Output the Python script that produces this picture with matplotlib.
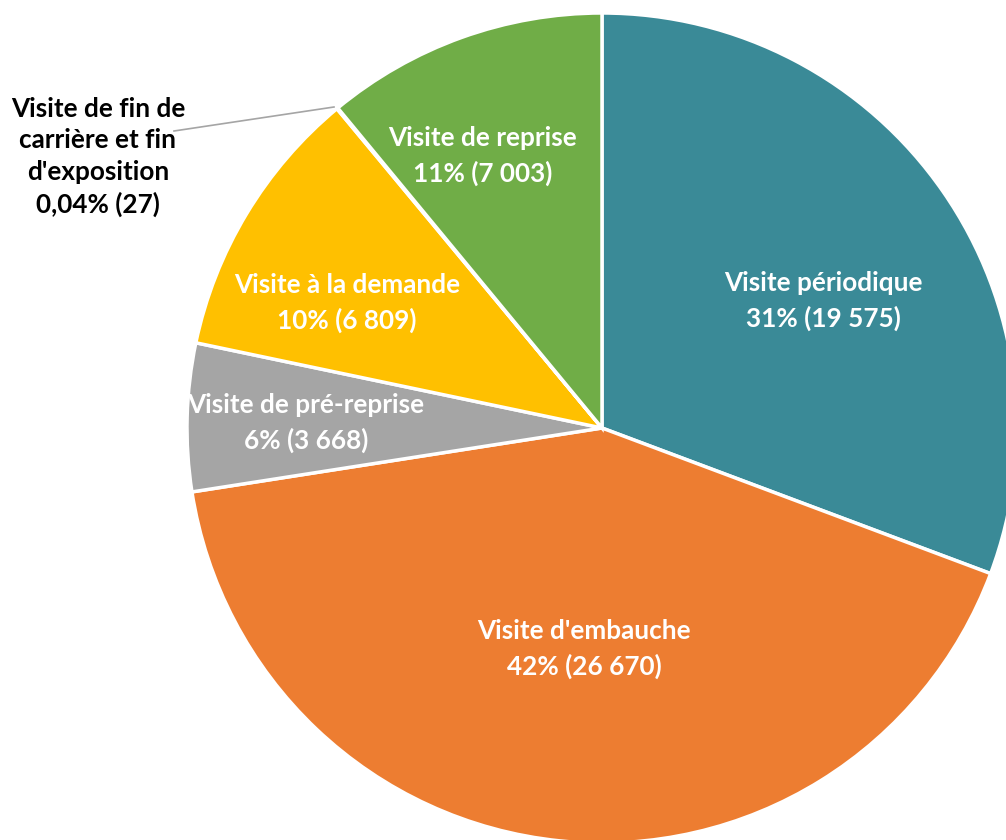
import matplotlib
matplotlib.use("Agg")
import matplotlib.pyplot as plt

categories = ["Visite périodique", "Visite d'embauche", "Visite de pré-reprise",
              "Visite à la demande", "Visite de fin de\ncarrière et fin\nd'exposition",
              "Visite de reprise"]
values = [19575, 26670, 3668, 6809, 27, 7003]
pct_labels = ["31%", "42%", "6%", "10%", "0,04%", "11%"]
colors = ["#3A8A97", "#ED7D31", "#A5A5A5", "#FFC000", "#4472C4", "#70AD47"]

W, H = 1006, 840
fig = plt.figure(figsize=(W / 100, H / 100), dpi=100)
ax = fig.add_axes([0, 0, 1, 1])
ax.set_xlim(0, W)
ax.set_ylim(0, H)
ax.set_aspect("equal")
ax.axis("off")

cx, cy, R = 602, H - 428, 415
wedges, _ = ax.pie(values, colors=colors, startangle=90, counterclock=False,
                   center=(cx, cy), radius=R,
                   wedgeprops=dict(edgecolor="white", linewidth=2.5))
ax.set_xlim(0, W)
ax.set_ylim(0, H)

def fmt(v):
    return f"{v:,}".replace(",", " ")

font = dict(family=["Lato", "DejaVu Sans"], fontweight="bold", fontsize=18.8)
# label positions (pixel coords from top)
pos = {0: (823, 301), 1: (584, 649), 2: (306, 423), 3: (347, 303), 5: (483, 156)}
for i, (x, y) in pos.items():
    ax.text(x, H - y, f"{categories[i]}\n{pct_labels[i]} ({fmt(values[i])})",
            ha="center", va="center", color="white", linespacing=1.52, **font)

# small slice label with leader line
ax.text(98, H - 157, f"{categories[4]}\n{pct_labels[4]} ({fmt(values[4])})",
        ha="center", va="center", color="black", linespacing=1.38, **font)
ax.plot([174, 334], [H - 131, H - 107], color="#A5A5A5", linewidth=1.2)

fig.savefig("out.png", dpi=100)
